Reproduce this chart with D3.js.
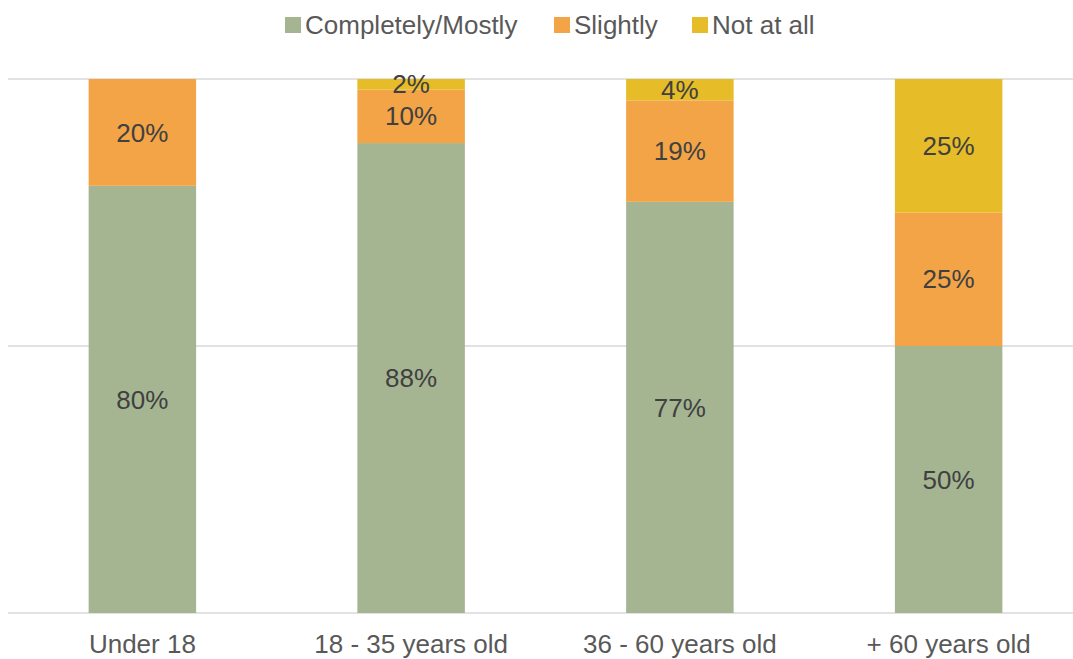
<!DOCTYPE html>
<html>
<head>
<meta charset="utf-8">
<script src="https://cdn.jsdelivr.net/npm/d3@7"></script>
<style>
  html, body { margin: 0; padding: 0; background: #fff; }
  svg { display: block; font-family: "Liberation Sans", Arial, sans-serif; }
</style>
</head>
<body>
<svg id="chart" width="1073" height="659"></svg>
<script>
// Age groups and share of responses per answer (percent)
const categories = ["Under 18", "18 - 35 years old", "36 - 60 years old", "+ 60 years old"];
const seriesNames = ["Completely/Mostly", "Slightly", "Not at all"];
const completelyMostly = [80, 88, 77, 50];
const slightly = [20, 10, 19, 25];
const notAtAll = [0, 2, 4, 25];
const yTicks = [0, 50, 100];
const colors = ["#A5B592", "#F3A447", "#E7BC29"];

const seriesValues = [completelyMostly, slightly, notAtAll];
const rows = categories.map((c, i) => {
  const r = { category: c };
  seriesNames.forEach((s, k) => { r[s] = seriesValues[k][i]; });
  return r;
});

const FONT = 26;
const svg = d3.select("#chart");
const margin = { top: 79, left: 8 };
const gridWidth = 1073 - margin.left;
const height = 613 - margin.top;

const g = svg.append("g").attr("transform", `translate(${margin.left},${margin.top})`);

const x = d3.scaleBand().domain(categories).range([0, 1075]).paddingInner(0.6).paddingOuter(0.3);
const y = d3.scaleLinear().domain([0, 100]).range([height, 0]);
const color = d3.scaleOrdinal().domain(seriesNames).range(colors);

// Gridlines
g.append("g")
  .selectAll("line")
  .data(yTicks)
  .join("line")
  .attr("x1", 0).attr("x2", gridWidth)
  .attr("y1", d => y(d)).attr("y2", d => y(d))
  .attr("stroke", "#d9d9d9")
  .attr("stroke-width", 1.5);

const stacked = d3.stack().keys(seriesNames)(rows);

const layers = g.selectAll("g.layer")
  .data(stacked)
  .join("g")
  .attr("class", "layer")
  .attr("fill", d => color(d.key));

layers.selectAll("rect")
  .data(d => d.filter(p => p[1] - p[0] > 0))
  .join("rect")
  .attr("x", d => x(d.data.category))
  .attr("width", x.bandwidth())
  .attr("y", d => y(d[1]))
  .attr("height", d => y(d[0]) - y(d[1]));

// Value labels centred in each segment
const labels = g.append("g");
stacked.forEach(layer => {
  layer.forEach(p => {
    const v = p[1] - p[0];
    if (v <= 0) return;
    labels.append("text")
      .attr("x", x(p.data.category) + x.bandwidth() / 2)
      .attr("y", y((p[0] + p[1]) / 2))
      .attr("dy", "0.35em")
      .attr("text-anchor", "middle")
      .attr("font-size", FONT)
      .attr("fill", "#404040")
      .text(v + "%");
  });
});

// Category axis
const xAxis = g.append("g")
  .attr("transform", `translate(0,${height})`)
  .call(d3.axisBottom(x).tickSize(0));
xAxis.select(".domain").remove();
xAxis.selectAll("text")
  .attr("dy", null)
  .attr("y", 40)
  .attr("font-size", FONT)
  .attr("fill", "#595959")
  .attr("font-family", "\"Liberation Sans\", Arial, sans-serif");

// Legend
const legendItems = [
  { name: seriesNames[0], x: 285 },
  { name: seriesNames[1], x: 554 },
  { name: seriesNames[2], x: 692 }
];
const legend = svg.append("g");
legendItems.forEach(item => {
  legend.append("rect")
    .attr("x", item.x).attr("y", 17)
    .attr("width", 16).attr("height", 16)
    .attr("fill", color(item.name));
  legend.append("text")
    .attr("x", item.x + 20).attr("y", 34)
    .attr("font-size", FONT)
    .attr("fill", "#595959")
    .text(item.name);
});
</script>
</body>
</html>
